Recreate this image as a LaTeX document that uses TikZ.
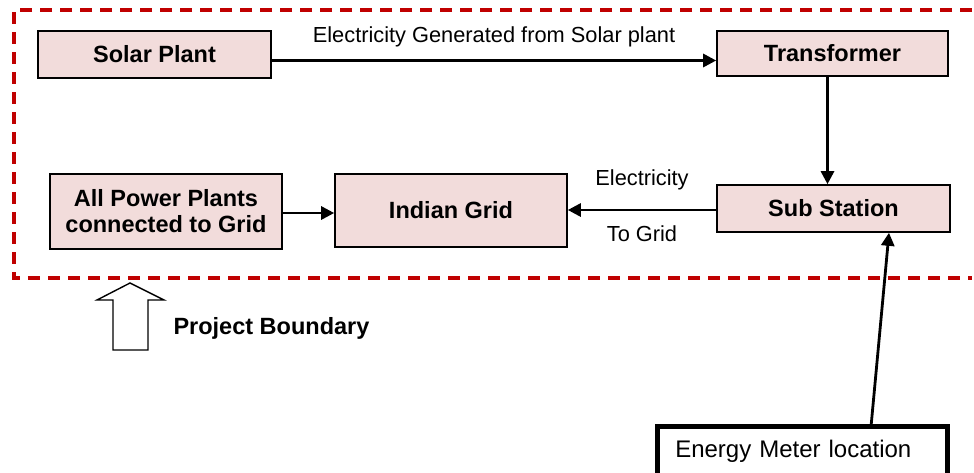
\documentclass[tikz,border=0pt]{standalone}
\usepackage{fontspec}
\setmainfont{Liberation Sans}
\usepackage{tikz}
\usetikzlibrary{arrows.meta,positioning,calc}
\usepackage{xcolor}
\definecolor{boundred}{HTML}{C00000}
\definecolor{boxpink}{HTML}{F2DCDB}
\newcommand{\boxfont}{\fontsize{23.5}{26}\bfseries\selectfont}
\newcommand{\lblfont}{\fontsize{21.8}{25}\selectfont}

\begin{document}
\begin{tikzpicture}[x=1pt, y=-1pt,
    plantbox/.style={draw, line width=1.6pt, fill=boxpink, font=\boxfont,
                     align=center, inner sep=0pt},
    flow/.style={line width=2.8pt, -{Triangle[length=13pt, width=13pt]}},
    flowlbl/.style={font=\lblfont, inner sep=3pt}]
  %% Page frame
  \clip (0,0) rectangle (974,472);

  %% Project boundary (dashed, open on the right)
  \draw[boundred, line width=4pt, dash pattern=on 12pt off 8pt]
    (972,10) -- (14,10) -- (14,278) -- (972,278);

  %% Boxes
  \node[plantbox, minimum width=233, minimum height=47] (solar) at (154.5,54.5) {Solar Plant};
  \node[plantbox, minimum width=231, minimum height=45] (trans) at (832.5,53.5) {Transformer};
  \node[plantbox, minimum width=233, minimum height=47] (sub) at (833.5,208.5) {Sub Station};
  \node[plantbox, minimum width=232, minimum height=73] (grid) at (451,210.5) {Indian Grid};
  \node[plantbox, minimum width=232, minimum height=75] (allpp) at (166,211.5)
    {All Power Plants\\connected to Grid};

  %% Metering point (box runs off the page)
  \node[draw, line width=4.5pt, fill=white, font=\fontsize{24}{28}\selectfont,
        inner xsep=18pt, inner ysep=0pt,
        text width=254, text height=31, text depth=28, align=left, anchor=north west]
    (meter) at (655,424) {Energy Meter location};

  %% Power flow
  \draw[flow] ([yshift=-6]solar.east) -- ([yshift=-6]solar.east -| trans.west)
    node[flowlbl, midway, above=9pt] {Electricity Generated from Solar plant};
  \draw[flow] ([xshift=-5]trans.south) -- ([xshift=-5]trans.south |- sub.north);
  \draw[flow] ([yshift=-1.5]sub.west) -- ([yshift=-1.5]sub.west -| grid.east)
    node[flowlbl, midway, above=16pt] {Electricity}
    node[flowlbl, midway, below=11pt] {To Grid};
  \draw[flow] ([yshift=-1.5]allpp.east) -- ([yshift=-1.5]allpp.east -| grid.west);
  \draw[flow] ([xshift=69]meter.north) -- ([xshift=55.5]sub.south);

  %% Hollow arrow pointing at the boundary
  \draw[line width=1.4pt, fill=white]
    (130,283) -- (164,300) -- (148,300) -- (148,350) -- (113,350)
    -- (113,300) -- (97,300) -- cycle;
  \node[font=\boxfont, anchor=west] (pblabel) at (170,328) {Project Boundary};
\end{tikzpicture}
\end{document}
